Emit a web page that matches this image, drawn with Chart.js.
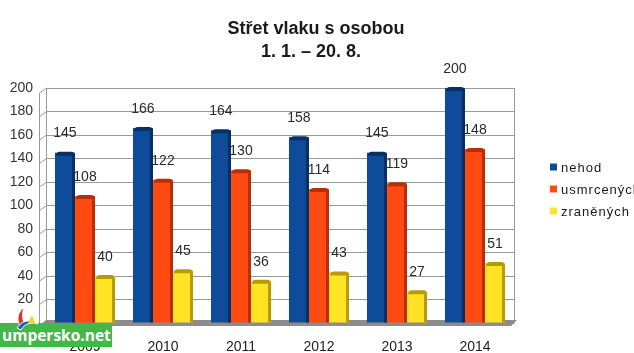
<!DOCTYPE html>
<html>
<head>
<meta charset="utf-8">
<script src="https://cdn.jsdelivr.net/npm/chart.js@4"></script>
<style>
  html, body { margin: 0; padding: 0; background: #fff; }
  #wrap { position: relative; width: 634px; height: 353px; overflow: hidden; }
  #wm { position: absolute; left: 0; top: 323px; width: 112px; height: 24px; background: #45b649;
        color: #fff; font: bold 15.5px "Open Sans", "DejaVu Sans", sans-serif; line-height: 24px;
        padding-left: 2px; box-sizing: border-box; white-space: nowrap; letter-spacing: 0px; }
  #logo { position: absolute; left: 12px; top: 306px; }
</style>
</head>
<body>
<div id="wrap">
  <canvas id="c" width="634" height="353"></canvas>
  <div id="wm">umpersko.net</div>
  <svg id="logo" width="30" height="26" viewBox="0 0 30 26">
    <path d="M8 20 C4 13 6 6 12 1 C10 7 10 13 13 19 Z" fill="#e53028" stroke="#fff" stroke-width="1"/>
    <path d="M5 22 C10 14 18 13 26 18 C20 16 13 17 9 24 Z" fill="#1f62b0" stroke="#fff" stroke-width="1"/>
    <path d="M16 17 L20 9 L23 17 Z" fill="#ffd21f"/>
  </svg>
</div>
<script>
const categories = ['2009', '2010', '2011', '2012', '2013', '2014'];
const seriesNames = ['nehod', 'usmrcených', 'zraněných'];
const nehod = [145, 166, 164, 158, 145, 200];
const usmrcenych = [108, 122, 130, 114, 119, 148];
const zranenych = [40, 45, 36, 43, 27, 51];
const yMin = 0, yMax = 200, yStep = 20;
const titleLines = ['Střet vlaku s osobou', '1. 1. – 20. 8.'];

const colors = ['#0e4c9a', '#ff4a12', '#ffe324'];
const darkColors = ['#082f66', '#b82e05', '#b89a08'];

const walls = {
  id: 'walls',
  beforeDatasetsDraw(chart) {
    const { ctx, chartArea: a, scales: { y } } = chart;
    ctx.save();
    ctx.strokeStyle = '#9a9a9a';
    ctx.lineWidth = 1;
    ctx.beginPath();
    ctx.moveTo(a.left + 0.5, a.top); ctx.lineTo(a.left + 0.5, a.bottom);
    ctx.moveTo(a.right + 0.5, a.top); ctx.lineTo(a.right + 0.5, a.bottom);
    ctx.moveTo(a.left - 6.5, a.top + 5); ctx.lineTo(a.left - 6.5, a.bottom + 4);
    for (let v = yMin; v <= yMax; v += yStep) {
      const py = y.getPixelForValue(v);
      ctx.moveTo(a.left - 6.5, py + 5); ctx.lineTo(a.left + 0.5, py);
    }
    ctx.stroke();
    ctx.fillStyle = '#8c8c8c';
    ctx.beginPath();
    ctx.moveTo(a.left, a.bottom - 3);
    ctx.lineTo(a.right + 3, a.bottom - 3);
    ctx.lineTo(a.right - 3, a.bottom + 3);
    ctx.lineTo(a.left - 7, a.bottom + 3);
    ctx.closePath();
    ctx.fill();
    ctx.restore();
  },
  afterDatasetsDraw(chart) {
    const { ctx } = chart;
    ctx.save();
    chart.data.datasets.forEach((ds, di) => {
      const meta = chart.getDatasetMeta(di);
      meta.data.forEach((bar) => {
        const w = bar.width, x0 = bar.x - w / 2, x1 = bar.x + w / 2;
        ctx.fillStyle = darkColors[di];
        ctx.fillRect(x1 - 3, bar.y + 2, 3, bar.base - bar.y - 2);
        ctx.beginPath();
        ctx.moveTo(x0 + 1, bar.y + 3);
        ctx.quadraticCurveTo(x0 + 1, bar.y - 1, x0 + 5, bar.y - 1);
        ctx.lineTo(x1 - 4, bar.y - 1);
        ctx.quadraticCurveTo(x1, bar.y - 1, x1, bar.y + 3);
        ctx.lineTo(x1 - 3, bar.y + 3);
        ctx.lineTo(x0 + 1, bar.y + 3);
        ctx.closePath();
        ctx.fill();
      });
    });
    ctx.fillStyle = '#2a2a2a';
    ctx.font = '14px "Liberation Sans", Arial, sans-serif';
    ctx.textAlign = 'center';
    ctx.textBaseline = 'middle';
    chart.data.datasets.forEach((ds, di) => {
      const meta = chart.getDatasetMeta(di);
      meta.data.forEach((bar, i) => {
        ctx.fillText(String(ds.data[i]), bar.x, bar.y - 19);
      });
    });
    ctx.restore();
  },
  afterDraw(chart) {
    const { ctx } = chart;
    ctx.save();
    ctx.fillStyle = '#1a1a1a';
    ctx.font = 'bold 18px "Liberation Sans", Arial, sans-serif';
    ctx.textAlign = 'center';
    ctx.textBaseline = 'middle';
    ctx.fillText(titleLines[0], 316, 29);
    ctx.fillText(titleLines[1], 311, 52);
    ctx.font = '13px "Liberation Sans", Arial, sans-serif';
    ctx.textAlign = 'left';
    try { ctx.letterSpacing = '1px'; } catch (e) {}
    chart.data.datasets.forEach((ds, di) => {
      const cy = 167 + di * 22;
      ctx.fillStyle = colors[di];
      ctx.fillRect(550, cy - 3.5, 7, 7);
      ctx.fillStyle = '#1a1a1a';
      ctx.fillText(ds.label, 561, cy + 1);
    });
    ctx.restore();
  }
};

new Chart(document.getElementById('c'), {
  type: 'bar',
  data: {
    labels: categories,
    datasets: [
      { label: seriesNames[0], data: nehod, backgroundColor: colors[0] },
      { label: seriesNames[1], data: usmrcenych, backgroundColor: colors[1] },
      { label: seriesNames[2], data: zranenych, backgroundColor: colors[2] }
    ]
  },
  options: {
    responsive: false,
    animation: false,
    devicePixelRatio: 1,
    layout: { padding: { top: 88, right: 120, left: 0, bottom: 0 } },
    datasets: { bar: { categoryPercentage: 0.77, barPercentage: 1.0, borderWidth: 0 } },
    plugins: { legend: { display: false }, title: { display: false }, tooltip: { enabled: false } },
    scales: {
      x: {
        grid: { display: false, drawTicks: false },
        border: { display: false },
        ticks: { color: '#222', font: { size: 14, family: '"Liberation Sans", Arial, sans-serif' }, padding: 16 },
        afterFit(s) { s.height = 30; }
      },
      y: {
        min: yMin, max: yMax,
        ticks: {
          stepSize: yStep, color: '#333', padding: 13,
          font: { size: 14, family: '"Liberation Sans", Arial, sans-serif' },
          callback: v => (v === 0 ? '' : v)
        },
        grid: { color: '#9a9a9a', drawTicks: false },
        border: { display: false },
        afterFit(s) { s.width = 46; }
      }
    }
  },
  plugins: [walls]
});
</script>
</body>
</html>
